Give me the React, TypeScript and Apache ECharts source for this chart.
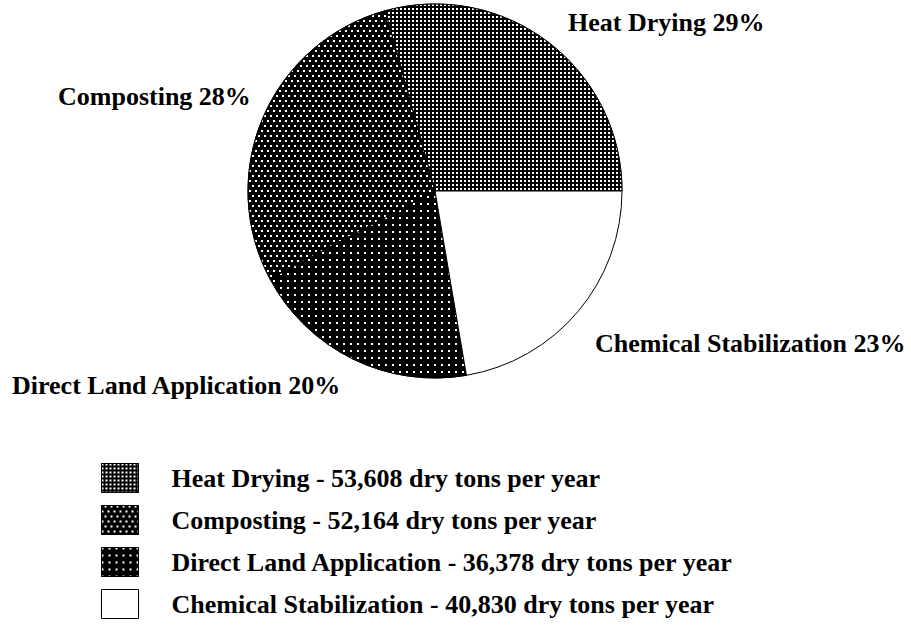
import React, { useEffect, useRef } from "react";
import * as echarts from "echarts";

const categories = [
  "Heat Drying",
  "Composting",
  "Direct Land Application",
  "Chemical Stabilization",
];
const tonsPerYear = [53608, 52164, 36378, 40830];
const labelPercents = [29, 28, 20, 23];

// styles (not data)
const fillColors = ["#000000", "#000000", "#000000", "#ffffff"];
const decals: any[] = [
  { symbol: "rect", symbolSize: 1, color: "#ffffff", dashArrayX: [2, 1.6], dashArrayY: [2, 1.6] },
  { symbol: "rect", symbolSize: 1, color: "#ffffff", dashArrayX: [[1.5, 3.5], [0, 2.5, 1.5, 1]], dashArrayY: [1.5, 3] },
  { symbol: "rect", symbolSize: 1, color: "#ffffff", dashArrayX: [1.6, 5], dashArrayY: [1.6, 4.5] },
  "none",
];
const labelAnchors = [
  [568, 22],
  [58, 96],
  [12, 385],
  [595, 343],
];

const FONT = '"Liberation Serif", "Times New Roman", serif';

export default function App() {
  const ref = useRef<HTMLDivElement>(null);
  useEffect(() => {
    if (!ref.current) return;
    const chart = echarts.init(ref.current, undefined, { renderer: "svg" });
    const data = categories.map((name, i) => ({
      name,
      value: tonsPerYear[i],
      itemStyle: {
        color: fillColors[i],
        decal: decals[i] === "none" ? undefined : decals[i],
      },
    }));
    chart.setOption({
      animation: false,
      backgroundColor: "#ffffff",
      legend: {
        orient: "vertical",
        left: 101,
        top: 463,
        height: 220,
        padding: 0,
        itemWidth: 37,
        itemHeight: 29,
        itemGap: 12,
        icon: "rect",
        selectedMode: false,
        data: categories,
        itemStyle: { borderColor: "#000", borderWidth: 1 },
        formatter: (name: string) => {
          const i = categories.indexOf(name);
          return `${name} - ${tonsPerYear[i].toLocaleString("en-US")} dry tons per year`;
        },
        textStyle: {
          fontFamily: FONT,
          fontWeight: "bold",
          fontSize: 26,
          lineHeight: 29,
          color: "#000",
          padding: [0, 0, 0, 28],
        },
      },
      series: [
        {
          type: "pie",
          center: [435, 191],
          radius: 187,
          startAngle: 0,
          clockwise: false,
          data,
          itemStyle: { borderColor: "#000", borderWidth: 1 },
          emphasis: { disabled: true },
          labelLine: { show: false },
          label: {
            show: true,
            position: "outside",
            alignTo: "none",
            overflow: "none",
            fontFamily: FONT,
            fontWeight: "bold",
            fontSize: 26,
            color: "#000",
            formatter: (p: any) => `${p.name} ${labelPercents[p.dataIndex]}%`,
          },
          labelLayout: (p: any) => ({
            x: labelAnchors[p.dataIndex][0],
            y: labelAnchors[p.dataIndex][1],
            align: "left",
            verticalAlign: "middle",
          }),
        },
      ],
    });
    return () => chart.dispose();
  }, []);
  return (
    <div
      ref={ref}
      style={{ position: "fixed", left: 0, top: 0, width: 911, height: 628 }}
    />
  );
}
